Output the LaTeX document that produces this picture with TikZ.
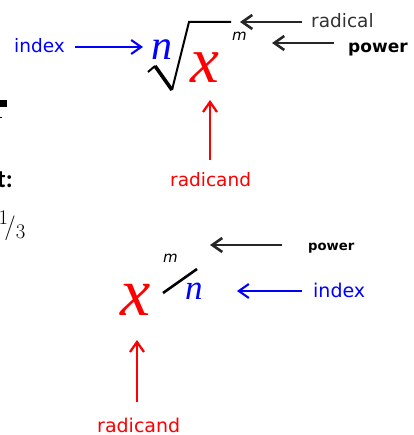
\documentclass[tikz,border=0pt]{standalone}
\usepackage{fontspec}
\newfontfamily\lblfont{DejaVu Sans}
\newfontfamily\symfont{Liberation Serif}
\newfontfamily\slidefont{Carlito}
\usetikzlibrary{arrows.meta}
\tikzset{
  lbl/.style={font=\lblfont\fontsize{18.5}{20}\selectfont, inner sep=0pt, anchor=base west},
  sym/.style={inner sep=0pt, anchor=base west},
  ptr/.style={-{Straight Barb[length=10pt,width=14pt]}, line width=2.6pt},
}
\begin{document}
\begin{tikzpicture}[x=1pt, y=-1pt]
\useasboundingbox (0,0) rectangle (413,435);
% cut-off slide text at the left edge
\fill (0,100) rectangle (7,107);
\draw[line width=0.8pt] (0,117.5) -- (2,117.5);
\node[inner sep=0pt, anchor=base east, font=\slidefont\bfseries\fontsize{25}{27}\selectfont] (cut1) at (13,188) {t:};
\node[inner sep=0pt, anchor=base east, font=\fontsize{32}{34}\selectfont] (cut2) at (26,234) {${}^{1}\!/_{3}$};
% radical form
\node[lbl, blue] (idx1) at (14,53) {index};
\node[sym, blue, font=\symfont\itshape\fontsize{42}{44}\selectfont] (n1) at (151,60) {n};
\node[sym, red, font=\symfont\itshape\fontsize{65}{67}\selectfont] (x1) at (190,83) {x};
\node[sym, font=\lblfont\itshape\fontsize{15}{16}\selectfont] (m1) at (232,41) {m};
\draw[line width=2pt, line join=miter] (148,72) -- (155,66) (172,90) -- (189,22) -- (231,22);
\draw[line width=3.6pt] (155,66) -- (172,90);
\node[lbl, black!80] (rad1) at (311,28) {radical};
\node[lbl, font=\lblfont\bfseries\fontsize{17}{18}\selectfont] (pow1) at (348,53) {power};
\node[lbl, red] (rdc1) at (170,187) {radicand};
\coordinate (idxtip1) at (143,47);
\coordinate (radtip) at (240,22);
\coordinate (powtip1) at (272,43);
\coordinate (rdctip1) at (210,100);
\draw[ptr, blue, line width=2.1pt, shorten <=10pt] (idx1.east |- idxtip1) -- (idxtip1);
\draw[ptr, black!85, shorten <=9pt] (rad1.west |- radtip) -- (radtip);
\draw[ptr, black!85, shorten <=14pt] (pow1.west |- powtip1) -- (powtip1);
\draw[ptr, red, line width=2.3pt, shorten <=13pt] (rdctip1 |- rdc1.north) -- (rdctip1);
% exponent form
\node[sym, red, font=\symfont\itshape\fontsize{68}{70}\selectfont] (x2) at (120,315) {x};
\node[sym, font=\lblfont\itshape\fontsize{15}{16}\selectfont] (m2) at (163,262) {m};
\node[sym, blue, font=\symfont\itshape\fontsize{35}{37}\selectfont] (n2) at (185,299) {n};
\draw[line width=2.6pt] (163,293) -- (197,269);
\node[lbl, font=\lblfont\bfseries\fontsize{13.2}{14}\selectfont] (pow2) at (308,250) {power};
\node[lbl, blue, font=\lblfont\fontsize{19}{20}\selectfont] (idx2) at (313,297) {index};
\node[lbl, red, font=\lblfont\fontsize{19}{20}\selectfont] (rdc2) at (97,432) {radicand};
\coordinate (powtip2) at (210,245);
\coordinate (idxtip2) at (237,291);
\coordinate (rdctip2) at (137,340);
\draw[ptr, black!85, shorten <=26pt] (pow2.west |- powtip2) -- (powtip2);
\draw[ptr, blue, line width=2.1pt, shorten <=11pt] (idx2.west |- idxtip2) -- (idxtip2);
\draw[ptr, red, line width=2.3pt, shorten <=15pt] (rdctip2 |- rdc2.north) -- (rdctip2);
\end{tikzpicture}
\end{document}
